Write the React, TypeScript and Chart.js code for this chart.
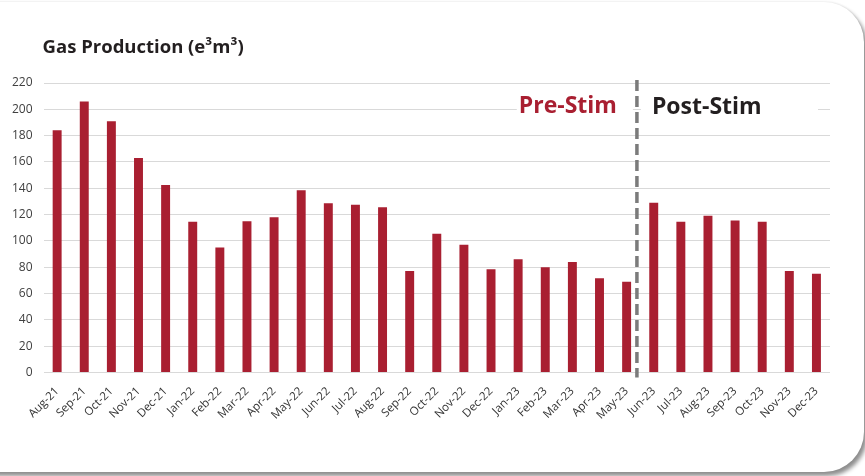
import React, { useEffect, useRef } from "react";
import { Chart, registerables } from "chart.js";

Chart.register(...registerables);

// Monthly gas production, e3m3
const months = [
  "Aug-21", "Sep-21", "Oct-21", "Nov-21", "Dec-21",
  "Jan-22", "Feb-22", "Mar-22", "Apr-22", "May-22", "Jun-22", "Jul-22",
  "Aug-22", "Sep-22", "Oct-22", "Nov-22", "Dec-22",
  "Jan-23", "Feb-23", "Mar-23", "Apr-23", "May-23", "Jun-23", "Jul-23",
  "Aug-23", "Sep-23", "Oct-23", "Nov-23", "Dec-23",
];

const gasProduction = [
  184, 206, 191, 163, 142.5,
  114.5, 95, 115, 118, 138.5, 128.5, 127.5,
  125.5, 77, 105.5, 97, 78.5,
  86, 80, 84, 71.5, 69, 129, 114.5,
  119, 115.5, 114.5, 77, 75,
];

const yMin = 0;
const yMax = 220;
const yStep = 20;

// First month after the stimulation
const stimStartIndex = 22;
const phaseLabels = ["Pre-Stim", "Post-Stim"];
const chartTitle = "Gas Production (e³m³)";

const BAR_RED = "#A91F31";
const TEXT_DARK = "#231F20";
const FONT = "'Open Sans', 'DejaVu Sans', sans-serif";

const stimPlugin = {
  id: "stimDivider",
  dividerX(chart: any) {
    const x = chart.scales.x;
    const a = x.getPixelForValue(stimStartIndex - 1);
    const b = x.getPixelForValue(stimStartIndex);
    return a + (b - a) * 0.38;
  },
  beforeDatasetsDraw(chart: any) {
    const { ctx, chartArea } = chart;
    const dx = stimPlugin.dividerX(chart);
    ctx.save();
    ctx.font = `700 23px ${FONT}`;
    const preW = ctx.measureText(phaseLabels[0]).width;
    // white panels behind the phase labels
    ctx.fillStyle = "#ffffff";
    ctx.fillRect(dx - 22 - preW, chartArea.top + 9, preW + 18, 33);
    ctx.fillRect(dx + 4, chartArea.top + 9, chartArea.right - 12 - dx - 4, 33);
    ctx.textBaseline = "alphabetic";
    ctx.fillStyle = BAR_RED;
    ctx.textAlign = "right";
    ctx.fillText(phaseLabels[0], dx - 20, chartArea.top + 30);
    ctx.fillStyle = TEXT_DARK;
    ctx.textAlign = "left";
    ctx.fillText(phaseLabels[1], dx + 15, chartArea.top + 31);
    ctx.restore();
  },
  afterDatasetsDraw(chart: any) {
    const { ctx, chartArea } = chart;
    const dx = stimPlugin.dividerX(chart);
    ctx.save();
    ctx.strokeStyle = "#7B7B7B";
    ctx.lineWidth = 3.5;
    ctx.setLineDash([11, 5]);
    ctx.beginPath();
    ctx.moveTo(dx, chartArea.top - 3);
    ctx.lineTo(dx, chartArea.bottom + 5);
    ctx.stroke();
    ctx.restore();
  },
  afterDraw(chart: any) {
    const { ctx, chartArea } = chart;
    ctx.save();
    ctx.font = `700 18.5px ${FONT}`;
    ctx.fillStyle = TEXT_DARK;
    ctx.textAlign = "left";
    ctx.textBaseline = "alphabetic";
    ctx.fillText(chartTitle, chartArea.left - 1, chartArea.top - 30);
    ctx.restore();
  },
};

export default function App() {
  const canvasRef = useRef<HTMLCanvasElement | null>(null);

  useEffect(() => {
    document.body.style.margin = "0";
    const canvas = canvasRef.current;
    if (!canvas) return;
    const chart = new Chart(canvas, {
      type: "bar",
      data: {
        labels: months,
        datasets: [
          {
            data: gasProduction,
            backgroundColor: BAR_RED,
            barPercentage: 0.33,
            categoryPercentage: 1,
          },
        ],
      },
      options: {
        animation: false,
        responsive: false,
        devicePixelRatio: 1,
        layout: { padding: { left: 1, right: 35, top: 83, bottom: 50 } },
        plugins: {
          legend: { display: false },
          title: { display: false },
          tooltip: { enabled: false },
        },
        scales: {
          x: {
            grid: { display: false },
            border: { display: false },
            ticks: {
              maxRotation: 45,
              minRotation: 45,
              autoSkip: false,
              padding: 4,
              color: "#333333",
              font: { family: FONT, size: 11.5 },
            },
          },
          y: {
            min: yMin,
            max: yMax,
            grid: { color: "#D9D9D9", lineWidth: 1, drawTicks: false },
            border: { display: false },
            ticks: {
              stepSize: yStep,
              padding: 11,
              color: "#404040",
              font: { family: FONT, size: 12 },
            },
          },
        },
      },
      plugins: [stimPlugin],
    });
    return () => chart.destroy();
  }, []);

  return (
    <div
      style={{
        position: "fixed",
        left: 0,
        top: 0,
        width: 865,
        height: 476,
        overflow: "hidden",
        background: "#ffffff",
      }}
    >
      <div
        style={{
          position: "absolute",
          left: -40,
          top: 2,
          width: 904,
          height: 470,
          borderRadius: "0 40px 40px 0",
          background: "#ffffff",
          boxShadow: "0 -1px 2px rgba(0,0,0,0.06), 3px 4px 4px rgba(0,0,0,0.45)",
        }}
      />
      <canvas
        ref={canvasRef}
        width={865}
        height={476}
        style={{ position: "absolute", left: 0, top: 0, width: 865, height: 476 }}
      />
    </div>
  );
}
